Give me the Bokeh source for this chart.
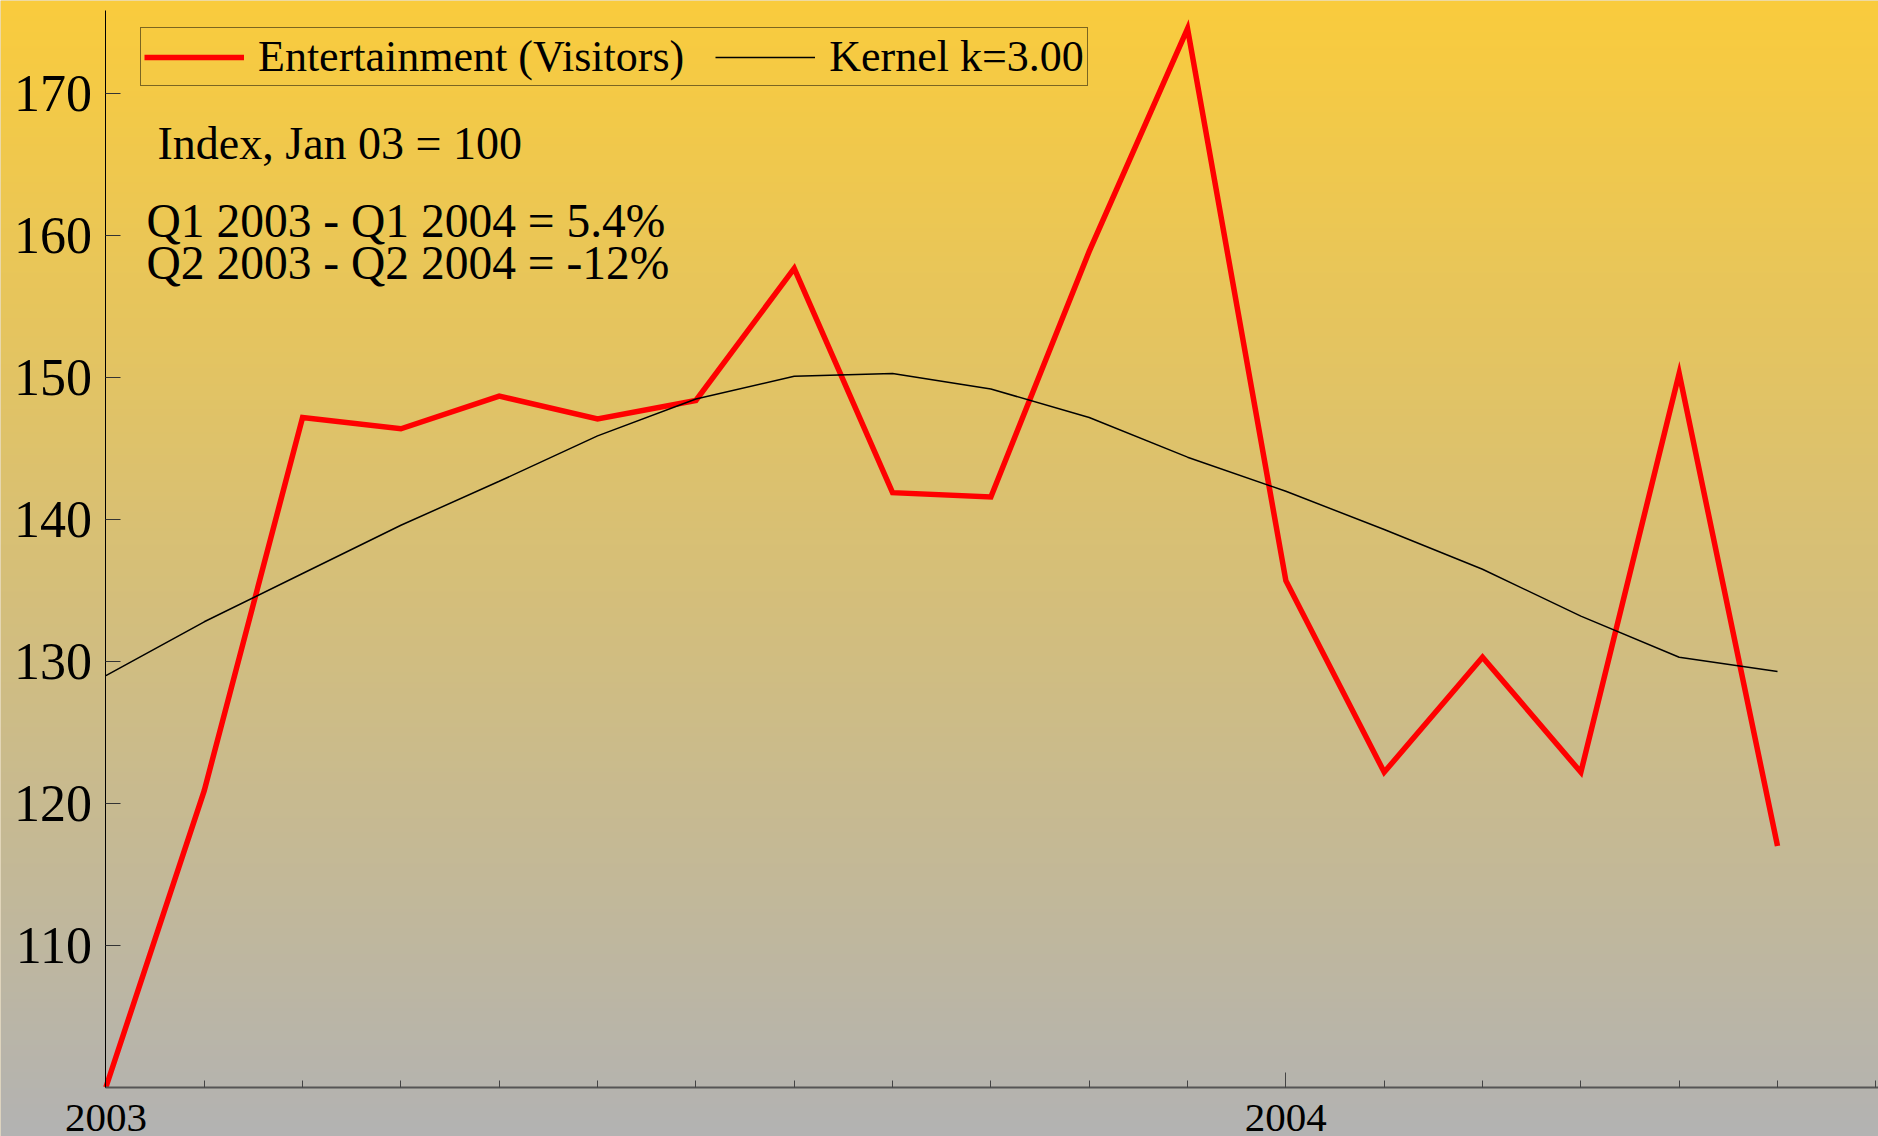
import numpy as np
from bokeh.plotting import figure
from bokeh.models import (Range1d, FixedTicker, Legend, LegendItem, Label, LinearAxis)
from bokeh.embed import file_html
from bokeh.resources import INLINE

# ---- data ----
months = [0, 1, 2, 3, 4, 5, 6, 7, 8, 9, 10, 11, 12, 13, 14, 15, 16, 17]
visitors = [100.0, 120.9, 147.2, 146.4, 148.7, 147.1, 148.4, 157.7, 141.9,
            141.6, 158.9, 174.6, 135.7, 122.2, 130.3, 122.2, 150.3, 117.0]
kernel = [129.0, 132.8, 136.2, 139.6, 142.7, 145.9, 148.5, 150.1, 150.3,
          149.2, 147.2, 144.4, 142.0, 139.3, 136.5, 133.2, 130.3, 129.3]
minor_months = [0, 1, 2, 3, 4, 5, 6, 7, 8, 9, 10, 11, 12, 13, 14, 15, 16, 17, 18]
year_ticks = [0, 12]
year_labels = ["2003", "2004"]
y_ticks = [110, 120, 130, 140, 150, 160, 170]
notes = ["Index, Jan 03 = 100", "Q1 2003 - Q1 2004 = 5.4%", "Q2 2003 - Q2 2004 = -12%"]

W, H = 1878, 1136
FONT = "Liberation Serif"

x0, x1 = -1.072, 18.027
y0, y1 = 96.53, 176.58

p = figure(width=W, height=H, output_backend="svg", toolbar_location=None,
           x_range=Range1d(x0, x1), y_range=Range1d(y0, y1),
           x_axis_location=None, y_axis_location=None,
           min_border=0, min_border_left=0, min_border_right=0,
           min_border_top=0, min_border_bottom=0)
p.outline_line_color = None
p.grid.visible = False
p.background_fill_color = "#D8C08C"
p.border_fill_color = "#D8C08C"

# background gradient (yellow top -> grey bottom)
N = H
t = np.linspace(0.0, 1.0, N)  # 0 bottom, 1 top
top = np.array([250, 204, 61])
bot = np.array([179, 179, 179])
img = np.empty((N, 1), dtype=np.uint32)
view = img.view(dtype=np.uint8).reshape((N, 1, 4))
for c in range(3):
    view[:, 0, c] = (bot[c] + (top[c] - bot[c]) * t).astype(np.uint8)
view[:, 0, 3] = 255
p.image_rgba(image=[img], x=x0, y=y0, dw=x1 - x0, dh=y1 - y0)

r_vis = p.line(months, visitors, line_color="#FF0000", line_width=5.5, line_join="miter")
r_ker = p.line(months, kernel, line_color="black", line_width=1.5)

xa = LinearAxis(fixed_location=100, bounds=(0, x1))
xa.ticker = FixedTicker(ticks=year_ticks, minor_ticks=minor_months)
xa.major_label_overrides = {k: v for k, v in zip(year_ticks, year_labels)}
xa.axis_line_color = "#555555"
xa.axis_line_width = 2
xa.major_tick_in = 15
xa.major_tick_out = 0
xa.minor_tick_in = 7
xa.minor_tick_out = 0
xa.major_tick_line_color = "#444444"
xa.minor_tick_line_color = "#444444"
xa.major_label_text_font = FONT
xa.major_label_text_font_size = "41px"
xa.major_label_text_color = "black"
xa.major_label_standoff = 18
p.add_layout(xa, "below")

ya = LinearAxis(fixed_location=0, bounds=(100, 175.9))
ya.ticker = FixedTicker(ticks=y_ticks, minor_ticks=[])
ya.axis_line_color = "black"
ya.axis_line_width = 1
ya.major_tick_in = 15
ya.major_tick_out = 0
ya.major_tick_line_color = "#333333"
ya.major_label_text_font = FONT
ya.major_label_text_font_size = "52px"
ya.major_label_text_color = "black"
ya.major_label_standoff = 14
p.add_layout(ya, "left")

legend = Legend(items=[LegendItem(label="Entertainment (Visitors)", renderers=[r_vis]),
                       LegendItem(label="Kernel k=3.00", renderers=[r_ker])],
                orientation="horizontal", location=(140, 1050))
legend.label_text_font = FONT
legend.label_text_font_size = "44px"
legend.label_text_color = "black"
legend.glyph_width = 100
legend.glyph_height = 46
legend.label_height = 46
legend.label_standoff = 14
legend.spacing = 31
legend.padding = 3
legend.margin = 0
legend.border_line_color = "black"
legend.border_line_width = 1
legend.background_fill_alpha = 0
p.add_layout(legend)

note_pos = [(157, 993), (146, 916), (146, 874)]
note_size = ["46px", "47.5px", "47.5px"]
for txt, (sx, sy), fs in zip(notes, note_pos, note_size):
    p.add_layout(Label(x=sx, y=sy, x_units="screen", y_units="screen", text=txt,
                       text_font=FONT, text_font_size=fs, text_color="black",
                       text_baseline="alphabetic"))

open("out.html", "w").write(file_html(p, INLINE))
